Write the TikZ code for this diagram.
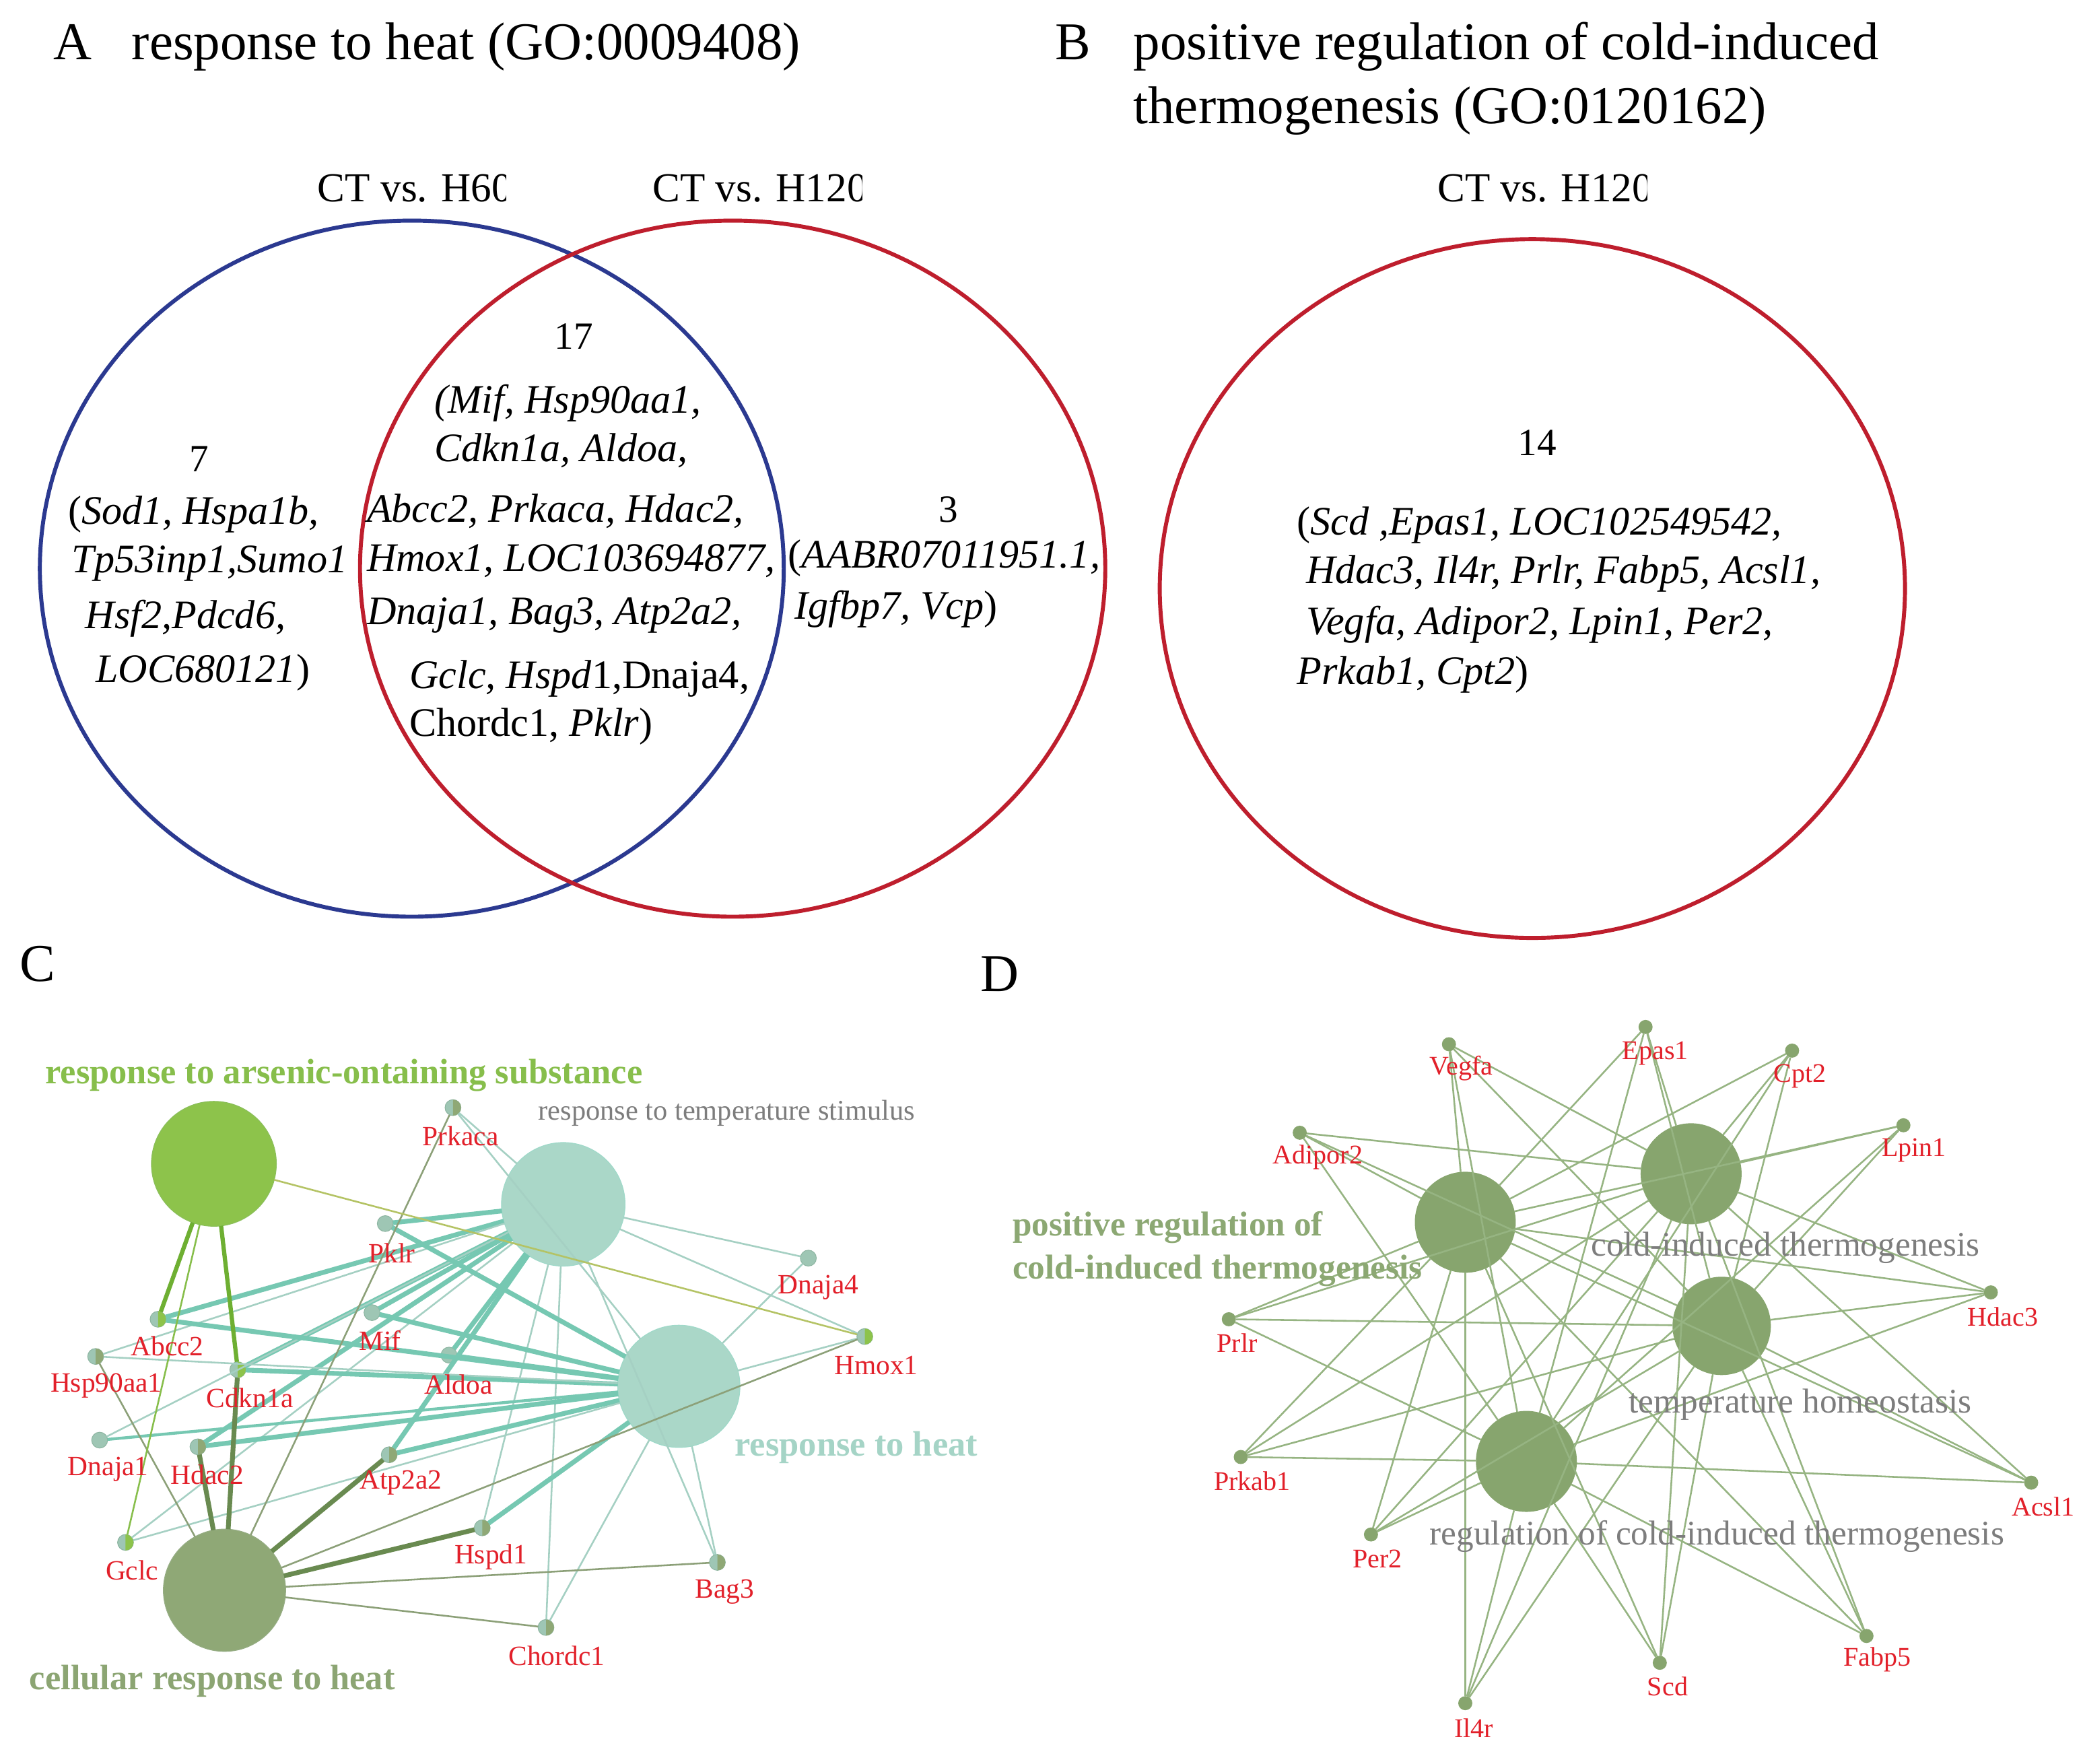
\documentclass[tikz,border=0pt]{standalone}
\usepackage{fontspec}
\setmainfont{Liberation Serif}[ItalicFont={Liberation Serif Italic},BoldFont={Liberation Serif Bold},BoldItalicFont={Liberation Serif Bold Italic}]
\definecolor{vblue}{RGB}{43,57,144}
\definecolor{vred}{RGB}{190,30,45}
\definecolor{genered}{RGB}{226,32,42}
\definecolor{arsN}{RGB}{141,195,75}
\definecolor{arsL}{RGB}{135,190,75}
\definecolor{arsE}{RGB}{110,175,50}
\definecolor{arsY}{RGB}{180,195,100}
\definecolor{tealN}{RGB}{170,215,200}
\definecolor{tealL}{RGB}{165,212,198}
\definecolor{tealE}{RGB}{118,200,178}
\definecolor{tealT}{RGB}{165,208,195}
\definecolor{oliveN}{RGB}{143,168,118}
\definecolor{oliveL}{RGB}{140,165,115}
\definecolor{oliveE}{RGB}{105,138,80}
\definecolor{oliveT}{RGB}{140,160,120}
\definecolor{geneC}{RGB}{158,198,180}
\definecolor{geneCd}{RGB}{140,180,160}
\definecolor{nodeD}{RGB}{135,165,110}
\definecolor{edgeD}{RGB}{150,180,130}
\definecolor{labD}{RGB}{140,168,115}
\definecolor{grayT}{RGB}{125,125,125}
\begin{document}
\begin{tikzpicture}[x=1pt,y=-1pt,
  ttl/.style={inner sep=0pt, anchor=base west, font=\fontsize{40}{48}\selectfont},
  grp/.style={inner sep=0pt, anchor=base west, font=\fontsize{31}{36}\selectfont},
  vtxt/.style={inner sep=0pt, anchor=base west, font=\fontsize{30.5}{36}\selectfont},
  vnum/.style={inner sep=0pt, anchor=base, font=\fontsize{29}{34}\selectfont},
  gene/.style={circle, inner sep=0pt, outer sep=0pt, minimum size=12pt, fill=geneC, draw=geneCd, line width=0.5pt},
  geneD/.style={circle, inner sep=0pt, outer sep=0pt, minimum size=10.6pt, fill=nodeD},
  glab/.style={inner sep=0pt, text=genered, font=\fontsize{21}{24}\selectfont},
  glabD/.style={inner sep=0pt, text=genered, font=\fontsize{20.3}{24}\selectfont},
  termnode/.style={circle, inner sep=0pt, outer sep=0pt, minimum size=#1},
  boldlab/.style={inner sep=0pt, anchor=base west, font=\bfseries\fontsize{26.6}{30}\selectfont},
  plainlab/.style={inner sep=0pt, anchor=base west, font=\fontsize{21.5}{26}\selectfont, text=grayT},
  dbold/.style={inner sep=0pt, anchor=base west, font=\bfseries\fontsize{26}{30}\selectfont, text=labD},
  dgray/.style={inner sep=0pt, anchor=base west, font=\fontsize{26}{30}\selectfont, text=grayT},
  tthick/.style={draw=tealE, line width=3.6pt},
  tthin/.style={draw=tealT, line width=1.3pt},
  othick/.style={draw=oliveE, line width=3.6pt},
  othin/.style={draw=oliveT, line width=1.3pt},
  gthick/.style={draw=arsE, line width=3.2pt},
  gthin/.style={draw=arsL, line width=1.3pt},
  dedge/.style={draw=edgeD, line width=1.3pt}
]
\fill[white, use as bounding box] (0,0) rectangle (1568,1327.4);

% ---------------- Panel A ----------------
\node[ttl] (lA) at (40,45) {A};
\node[ttl] (tA) at (99,45) {response to heat (GO:0009408)};
\begin{scope}
  \clip (200,100) rectangle (381,175);
  \node[grp] (ct60) at (239,151.6) {CT vs. H60};
\end{scope}
\begin{scope}
  \clip (450,100) rectangle (649,175);
  \node[grp] (ct120a) at (491,151.6) {CT vs. H120};
\end{scope}
\draw[vblue, line width=3pt] (310,428) ellipse [x radius=280, y radius=262];
\draw[vred, line width=3pt] (551.5,428) ellipse [x radius=280.5, y radius=262];

\node[vnum] (n7) at (150,355) {7};
\node[vtxt] (l1a) at (51,394.6) {(\textit{Sod1, Hspa1b,}};
\node[vtxt] (l1b) at (54,430.8) {\textit{Tp53inp1,Sumo1}};
\node[vtxt] (l1c) at (64,473) {\textit{Hsf2,Pdcd6,}};
\node[vtxt] (l1d) at (72,513.6) {\textit{LOC680121})};

\node[vnum] (n17) at (432,263) {17};
\node[vtxt] (l2a) at (327,311) {\textit{(Mif, Hsp90aa1,}};
\node[vtxt] (l2b) at (327,347.5) {\textit{Cdkn1a, Aldoa,}};
\node[vtxt] (l2c) at (276,393) {\textit{Abcc2, Prkaca, Hdac2,}};
\node[vtxt] (l2d) at (276,430) {\textit{Hmox1, LOC103694877,}};
\node[vtxt] (l2e) at (276,470) {\textit{Dnaja1, Bag3, Atp2a2,}};
\node[vtxt] (l2f) at (308,518) {\textit{Gclc, Hspd}1,Dnaja4,};
\node[vtxt] (l2g) at (308,554) {Chordc1, \textit{Pklr})};

\node[vnum] (n3) at (714,393) {3};
\node[vtxt] (l3a) at (593,427.6) {(\textit{AABR07011951.1,}};
\node[vtxt] (l3b) at (598,466) {\textit{Igfbp7, Vcp})};

% ---------------- Panel B ----------------
\node[ttl] (lB) at (794,45) {B};
\node[ttl] (tB1) at (853,45) {positive regulation of cold-induced};
\node[ttl] (tB2) at (853,92.8) {thermogenesis (GO:0120162)};
\begin{scope}
  \clip (1050,100) rectangle (1240,175);
  \node[grp] (ct120b) at (1082,151.6) {CT vs. H120};
\end{scope}
\draw[vred, line width=3pt] (1153.5,443) ellipse [x radius=280.5, y radius=263];
\node[vnum] (n14) at (1157,343) {14};
\node[vtxt] (l4a) at (976,402.7) {(\textit{Scd ,Epas1, LOC102549542,}};
\node[vtxt] (l4b) at (983,439) {\textit{Hdac3, Il4r, Prlr, Fabp5, Acsl1,}};
\node[vtxt] (l4c) at (983,477.4) {\textit{Vegfa, Adipor2, Lpin1, Per2,}};
\node[vtxt] (l4d) at (976,515) {\textit{Prkab1, Cpt2})};

% ---------------- Panel C ----------------
\node[ttl] (lC) at (14.5,738.7) {C};
\node[termnode=94pt, fill=arsN, draw=arsE!80, line width=0.6pt] (AS) at (161,876) {};
\node[termnode=93pt, fill=tealN, draw=tealE!70, line width=0.6pt] (T) at (424,906.5) {};
\node[termnode=92pt, fill=tealN, draw=tealE!70, line width=0.6pt] (H) at (511,1043.5) {};
\node[termnode=92pt, fill=oliveN, draw=oliveE!70, line width=0.6pt] (CR) at (169,1197) {};

\foreach \n/\x/\y in {Prkaca/341/833.7, Pklr/290/921, Dnaja4/608.5/947, Hmox1/651/1006,
  Mif/280/988, Abcc2/119/993, Aldoa/338/1020, Hsp90aa1/72/1021, Cdkn1a/179/1031,
  Dnaja1/75/1084, Hdac2/149/1089, Atp2a2/293/1095, Gclc/94.5/1161, Hspd1/363/1150,
  Bag3/540/1176, Chordc1/411/1225}
  {\node[gene] (\n) at (\x,\y) {};}
\foreach \g/\c in {Prkaca/oliveN, Hsp90aa1/oliveN, Cdkn1a/arsN, Hdac2/oliveN, Atp2a2/oliveN,
  Hspd1/oliveN, Bag3/oliveN, Chordc1/oliveN, Hmox1/arsN, Gclc/arsN, Abcc2/arsN}
  {\begin{scope}
     \clip (\g.north) rectangle ([xshift=8pt]\g.south);
     \fill[\c] (\g.center) circle[radius=6pt];
   \end{scope}}

\foreach \g in {Pklr,Abcc2,Mif,Cdkn1a,Aldoa,Hdac2,Atp2a2}
  {\draw[tthick] (T) -- (\g);}
\foreach \g in {Prkaca,Hsp90aa1,Dnaja1,Gclc,Hspd1,Bag3,Chordc1,Dnaja4,Hmox1}
  {\draw[tthin] (T) -- (\g);}
\foreach \g in {Pklr,Abcc2,Mif,Cdkn1a,Aldoa,Hdac2,Atp2a2,Hspd1}
  {\draw[tthick] (H) -- (\g);}
\draw[draw=tealE, line width=2.2pt] (H) -- (Dnaja1);
\foreach \g in {Hsp90aa1,Gclc,Prkaca,Dnaja4,Hmox1,Bag3,Chordc1}
  {\draw[tthin] (H) -- (\g);}
\foreach \g in {Cdkn1a,Hdac2,Atp2a2,Hspd1}
  {\draw[othick] (CR) -- (\g);}
\foreach \g in {Prkaca,Hsp90aa1,Bag3,Chordc1,Hmox1}
  {\draw[othin] (CR) -- (\g);}
\foreach \g in {Abcc2,Cdkn1a}
  {\draw[gthick] (AS) -- (\g);}
\draw[gthin] (AS) -- (Gclc);
\draw[draw=arsY, line width=1.3pt] (AS) -- (Hmox1);

\foreach \n/\x/\y in {Prkaca/346.7/855, Pklr/295/943, Dnaja4/616/969, Hmox1/659.5/1028,
  Mif/286/1009, Abcc2/126/1013, Aldoa/345/1042, Hsp90aa1/80/1043, Cdkn1a/188/1052,
  Dnaja1/81.5/1106, Hdac2/156/1110, Atp2a2/301.6/1116, Gclc/99.4/1182, Hspd1/369.5/1172,
  Bag3/545.5/1198, Chordc1/419/1246.5}
  {\node[glab] (lab\n) at (\x,\y) {\n};}

\node[boldlab, text=arsL] (lAS) at (34,815.6) {response to arsenic-ontaining substance};
\node[plainlab] (lT) at (405,843) {response to temperature stimulus};
\node[boldlab, text=tealL] (lH) at (553,1096) {response to heat};
\node[boldlab, text=oliveL] (lCR) at (22,1271.7) {cellular response to heat};

% ---------------- Panel D ----------------
\node[ttl] (lD) at (738,746) {D};
\node[termnode=76pt, fill=nodeD] (P) at (1103,920) {};
\node[termnode=76pt, fill=nodeD] (CT) at (1273,883.5) {};
\node[termnode=74pt, fill=nodeD] (TH) at (1296,998) {};
\node[termnode=76pt, fill=nodeD] (R) at (1149,1100) {};

\foreach \n/\x/\y in {Vegfa/1090.7/786, Epas1/1238.7/773, Cpt2/1349/790.8, Adipor2/978.4/852.6,
  Lpin1/1432.8/847, Hdac3/1498.6/972.8, Prlr/925/993, Prkab1/934/1096.7, Acsl1/1529/1116,
  Per2/1032/1155, Fabp5/1405/1231.4, Scd/1249.4/1251.6, Il4r/1103/1282}
  {\node[geneD] (d\n) at (\x,\y) {};}
\foreach \g in {Vegfa,Epas1,Cpt2,Adipor2,Lpin1,Hdac3,Prlr,Prkab1,Acsl1,Per2,Fabp5,Scd,Il4r}
  {\foreach \t in {P,CT,TH,R}
     {\draw[dedge] (d\g) -- (\t);}}
\foreach \n/\x/\y in {Vegfa/1100/804, Epas1/1246/792.7, Cpt2/1355/810, Adipor2/992/871,
  Lpin1/1440.8/866, Hdac3/1507.6/991, Prlr/931.3/1011, Prkab1/942.6/1115, Acsl1/1538/1134,
  Per2/1037/1173.4, Fabp5/1413/1249.3, Scd/1255.3/1269.5, Il4r/1109.4/1300.7}
  {\node[glabD] (ld\n) at (\x,\y) {\n};}

\node[dbold] (lP1) at (762,930) {positive regulation of};
\node[dbold] (lP2) at (762,962.5) {cold-induced thermogenesis};
\node[dgray] (lCT) at (1197.6,945.3) {cold-induced thermogenesis};
\node[dgray] (lTH) at (1226,1063.5) {temperature homeostasis};
\node[dgray] (lR) at (1076,1162.7) {regulation of cold-induced thermogenesis};
\end{tikzpicture}
\end{document}
